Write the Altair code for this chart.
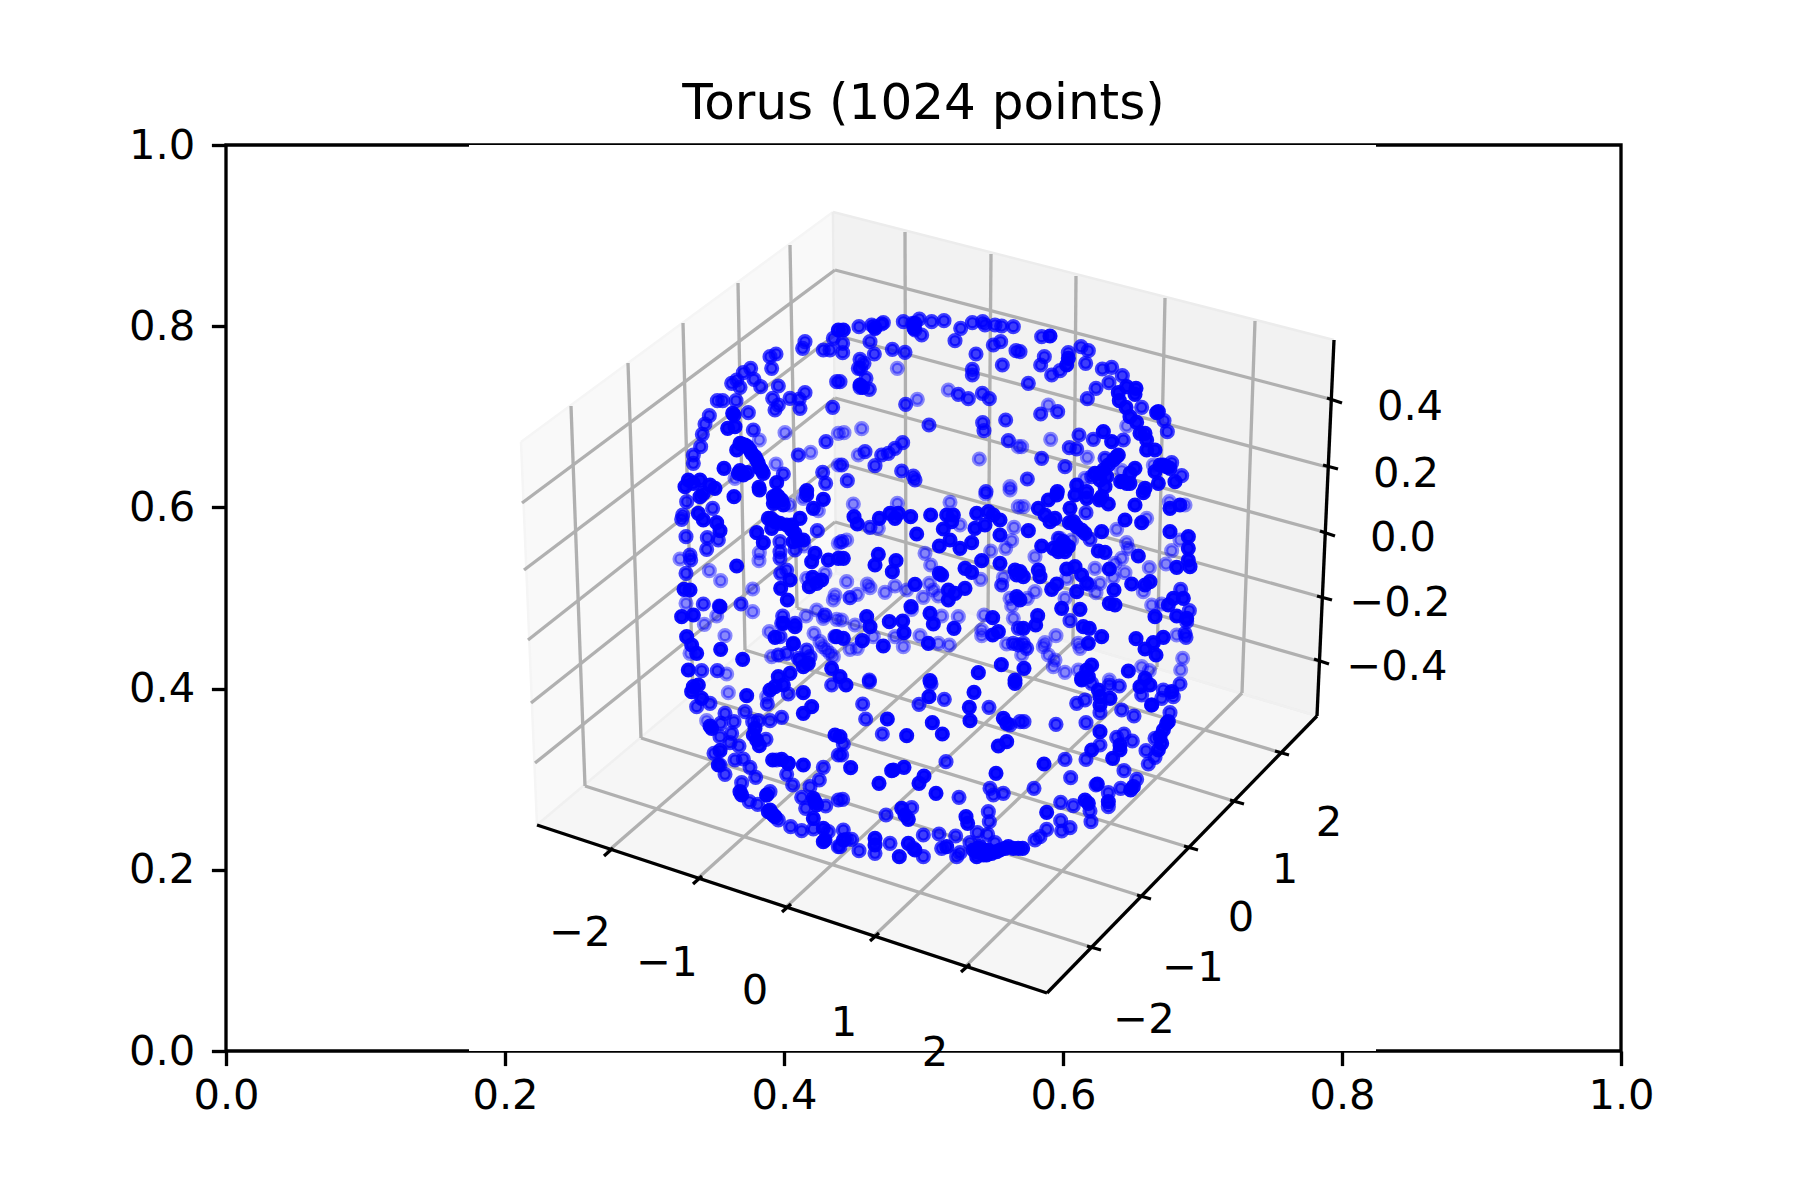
import altair as alt
import pandas as pd

# ---- outer axes frame (pixels) ----
FRAME_L, FRAME_R, FRAME_T, FRAME_B = 226, 1621, 145, 1051
PW, PH = FRAME_R - FRAME_L, FRAME_B - FRAME_T


def ax(px):
    return (px - FRAME_L) / PW


def ay(py):
    return (FRAME_B - py) / PH


FONT = "DejaVu Sans"
TICK_FS = 41.67

ORIGINS = [(660, 300), (840, 300), (1020, 300), (660, 490), (840, 490), (1020, 490), (660, 680), (840, 680), (1020, 680)]

SOLID = [
 [(218,340),(222,345),(225,380),(203,385),(255,435),(245,432),(230,450),(270,450),(285,470),(295,490),(310,520),(192,505),(240,512),(262,518),(350,548),(297,562),(440,572),(85,540),(100,550),(120,540),(150,555),(75,560),(165,565),(535,90),(262,440),(275,460),(290,480),(300,505),(305,510),(240,430),(235,520),(250,525)],
 [(225,70),(222,85),(68,262),(60,255),(105,85),(10,90)],
 [(90,108),(145,175),(140,195),(348,265),(320,260),(295,278),(345,283),(298,302),(318,322),(330,350),(350,367),(410,338),(415,335),(360,400),(375,400),(380,420),(380,450),(405,450),(250,395),(275,425),(295,465),(265,495),(240,520),(345,505),(330,520),(302,545),(430,495),(440,500),(405,515),(465,545),(255,560),(170,555),(375,565),(330,550),(415,550),(112,575),(250,510),(260,530),(240,540),(225,520),(290,470),(280,480),(310,545),(320,550),(450,505),(420,495)],
 [(222,20),(298,0),(355,20),(340,40),(365,30),(440,15),(490,28),(460,55),(120,20),(130,10),(115,70),(130,90),(170,98),(180,122),(420,85),(333,85),(335,115),(380,105),(395,120),(415,150),(290,128),(310,158),(230,228),(465,190),(455,215),(505,210),(535,205),(458,262),(485,270),(448,290),(470,280),(390,270),(362,295),(382,330),(72,298),(90,300),(65,380),(100,375),(80,440),(95,465),(110,490),(182,478),(248,508),(85,540),(345,442),(370,400),(405,410),(400,462),(445,520),(430,530),(515,535),(390,550),(355,560),(530,440),(180,350),(340,20),(345,30),(350,15),(370,45),(325,85),(345,95),(360,100),(395,105),(405,130),(400,155),(430,150)],
 [(42,80),(52,102),(118,85),(150,70),(165,85),(175,70),(212,80),(272,75),(320,75),(340,75),(335,95),(310,117),(230,132),(410,70),(445,65),(460,75),(480,90),(480,135),(405,115),(435,105),(298,168),(330,150),(360,175),(395,158),(10,205),(115,193),(105,225),(168,212),(157,245),(298,250),(305,255),(375,235),(395,247),(225,283),(325,300),(345,310),(375,295),(325,330),(480,220),(525,240),(530,255),(425,212),(80,380),(148,395),(213,350),(270,370),(280,402),(188,393),(192,428),(342,415),(458,383),(458,435),(475,425),(130,468),(265,460),(67,452),(10,445),(484,524),(415,548),(270,572),(525,570),(0,560),(530,320),(90,410)],
 [(25,122),(55,55),(85,30),(110,15),(75,75),(105,85),(90,95),(150,55),(165,15),(200,5),(245,20),(265,42),(238,30),(148,98),(170,110),(195,130),(245,125),(315,90),(365,98),(345,45),(370,8),(65,168),(100,175),(130,155),(135,185),(235,183),(255,187),(355,198),(268,237),(55,240),(60,260),(140,237),(165,230),(185,255),(200,280),(170,305),(95,298),(110,282),(125,355),(180,358),(282,300),(268,340),(285,345),(335,282),(375,285),(390,275),(405,380),(190,410),(208,415),(245,440),(205,460),(47,405),(53,377),(348,446),(400,458),(375,477),(408,495),(430,442),(450,125),(505,140),(490,325),(460,325),(445,345),(470,378),(500,385),(215,525),(200,540),(325,543),(375,565),(205,560),(10,415),(12,535),(0,330),(0,245),(10,260),(185,565),(200,25),(450,55),(480,45),(505,175),(505,210),(510,230),(470,232),(120,170),(145,170),(115,185),(160,95),(185,120)],
 [(100,20),(115,15),(95,35),(125,55),(260,47),(345,20),(330,30),(370,15),(430,38),(455,80),(430,100),(150,138),(155,145),(285,145),(280,165),(290,180),(298,197),(180,212),(175,255),(240,335),(245,345),(320,345),(338,240),(365,238),(385,250),(430,255),(330,390),(335,400),(345,410),(465,365),(460,415),(490,445),(490,485),(495,480),(525,165),(340,405),(325,395),(470,375),(460,355)],
 [(18,15),(267,50),(402,37),(525,10),(142,117),(277,128),(307,162),(200,167),(388,82),(390,122),(490,115),(500,130),(500,185),(475,198),(32,263),(155,272),(160,270),(192,262),(252,288),(237,310),(117,310),(288,340),(468,280),(185,385),(195,405),(205,418),(378,410),(383,430),(105,475),(105,495),(178,530),(205,490),(225,510),(320,500),(410,515),(430,525),(470,515),(505,500),(535,505),(420,500),(445,510),(0,170),(10,480),(400,510),(415,505),(440,525),(455,520),(480,510),(495,505),(520,505),(410,530),(430,510)],
 [(185,0),(235,30),(240,50),(240,75),(270,55),(390,15),(360,20),(455,35),(395,75),(240,155),(215,210),(300,195),(300,210),(278,235),(72,252),(232,312),(340,320),(332,330),(265,365),(195,360),(205,370),(80,397),(8,505),(445,125),(430,150),(420,170),(425,190),(415,210),(440,130)],
]

MID = [
 [(435,125),(428,145),(520,115),(490,150),(510,150),(330,170),(348,162),(335,205),(272,205),(250,218),(282,238),(302,260),(355,258),(215,250),(230,240),(240,262),(530,245),(435,278),(390,295),(418,297),(338,295),(420,325),(518,322),(355,315),(345,330),(172,302),(188,302),(228,302),(265,338),(148,347),(135,372),(127,403),(122,440),(100,465),(100,490),(280,390),(498,425),(415,465),(370,522),(488,517),(497,550)],
 [(8,130),(8,158),(57,80),(95,75),(103,80),(130,68),(125,72),(90,125),(103,162),(157,148),(195,157),(190,65),(218,70),(238,57),(225,90),(245,105),(275,65),(312,62),(345,122),(362,85),(397,68),(428,65),(435,75),(465,75),(485,78),(520,80),(460,135),(482,125),(408,162),(528,152),(487,195),(397,208),(397,225),(60,178),(72,190),(55,205),(62,205),(78,235),(60,262),(88,268),(0,245),(355,283),(385,296),(427,280),(448,296),(197,313),(267,375),(428,368),(432,392),(497,360),(505,422),(188,428),(165,445),(145,460),(125,465),(75,455),(105,497),(5,495),(185,513),(220,528),(225,540),(22,542),(438,575)],
 [(65,110),(73,170),(62,195),(95,225),(120,212),(145,158),(183,140),(205,152),(197,190),(247,207),(275,202),(307,227),(267,248),(25,250),(228,265),(202,296),(62,342),(113,335),(365,322),(432,362),(442,395),(177,405),(220,418),(148,443),(170,447),(65,475),(135,500),(22,537),(310,420),(255,475),(455,488),(485,527),(215,530),(0,155)],
 [(80,35),(158,55),(68,75),(65,88),(78,140),(142,143),(175,150),(140,178),(90,195),(92,210),(78,250),(130,342),(178,348),(243,342),(360,185),(360,205),(360,155),(380,240),(362,250),(472,122),(405,180),(495,375),(368,378),(525,440),(440,480),(355,495),(380,490),(400,460),(125,542),(172,542),(415,505),(365,400),(405,400),(360,440),(420,510),(450,500)],
 [(90,112),(30,323),(485,285),(520,460),(535,465),(88,570),(5,155),(535,415)],
 [(198,68),(210,148),(482,298),(508,362),(150,392),(20,475),(10,460),(495,430),(498,442),(500,395),(115,145)],
 [(110,80),(150,70),(385,42),(322,72),(515,15),(195,100),(255,95),(182,130),(222,125),(215,160),(180,170),(210,188),(237,198),(278,125),(295,122),(330,122),(365,112),(318,178),(162,220),(225,240),(250,237),(270,262),(287,292),(380,283),(398,315),(490,262),(478,300),(450,320),(425,352),(245,308),(268,365),(293,373),(330,335),(320,345),(497,378),(437,385),(392,440),(425,452),(460,447),(505,455),(535,360),(535,225),(195,283),(350,240),(355,420),(535,500),(385,250),(180,255)],
 [(88,5),(68,72),(77,117),(127,162),(273,12),(313,58),(237,73),(447,82),(318,245),(10,192),(5,225),(357,352),(138,405),(215,383),(250,465),(297,462),(347,468),(8,358),(450,325),(460,345),(490,340),(445,395),(448,425),(412,458),(443,463),(57,512),(105,520),(150,490),(250,530),(35,478),(20,478),(10,450),(0,500),(390,488),(465,488),(305,505),(360,518),(350,530),(540,125),(510,135),(220,505)],
 [(12,125),(108,133),(198,128),(170,70),(195,60),(240,98),(305,90),(342,108),(450,98),(395,75),(365,45),(268,15),(298,18),(215,10),(425,55),(480,12),(430,30),(460,50),(290,172),(312,162),(337,183),(240,195),(135,238),(198,238),(378,212),(385,252),(405,232),(405,175),(312,272),(152,293),(42,325),(228,315),(265,338),(302,325),(350,298),(122,367),(160,377),(210,393),(213,425),(122,422),(150,443),(125,453),(80,448),(45,480),(60,470),(265,380)],
]

FAINT = [
 [(375,398),(298,420),(452,457),(348,492),(225,535),(535,495),(535,400)],
 [(172,205),(325,270),(232,298),(65,386),(12,398),(535,440),(55,465),(418,477),(510,560)],
 [(85,315),(320,378),(92,418),(5,440),(202,472),(400,495),(195,535),(305,512)],
 [(60,207),(148,242),(182,272),(278,297),(78,340),(170,378),(278,365),(133,403),(195,437),(298,188),(297,212),(388,45),(430,25),(475,62),(535,160),(432,168),(440,265),(495,250),(525,315),(520,330),(470,360),(490,385),(438,378),(328,425),(462,430),(530,388),(488,470),(510,490),(335,500),(200,552),(90,490),(500,480),(480,455),(520,500)],
 [(40,42),(172,40),(330,37),(437,12),(510,0),(535,50),(360,105),(522,112),(115,115),(255,190),(272,225),(20,275),(82,282),(90,293),(135,307),(165,288),(52,313),(268,280),(250,322),(280,300),(295,318),(422,268),(452,183),(497,175),(515,152),(490,262),(510,325),(515,348),(432,375),(520,385),(305,378),(355,380),(215,358),(5,390),(45,405),(240,437),(165,440),(190,470),(295,460),(328,465),(425,420),(425,437),(100,440),(30,478),(52,475),(500,462),(200,300),(20,150)],
 [(10,50),(290,118),(380,85),(120,145),(155,150),(320,158),(325,175),(455,182),(480,150),(45,200),(388,233),(438,222),(305,205),(315,248),(285,220),(225,235),(240,280),(228,308),(280,262),(395,345),(425,342),(135,325),(45,305),(22,325),(108,437),(75,458),(70,470),(85,495),(105,510),(100,530),(135,547),(175,460),(180,475),(175,540),(470,435),(488,505),(482,540),(365,530),(388,542),(268,570),(448,35),(495,45),(370,305),(210,285),(140,265),(5,495)],
 [(205,38),(320,50),(140,122)],
 [],
 [],
]

# ---- 3-D box (pixels) ----
FLOOR = [(537, 825), (1047, 993), (1317, 716), (836, 573)]
LEFT_PANE = [(537, 825), (521, 442), (833, 212), (836, 573)]
BACK_PANE = [(836, 573), (1317, 716), (1334, 340), (833, 212)]

X_TICK_POS = [(607, 852), (696, 880), (785, 908), (873, 937), (964, 968)]
X_GRID_BOT = [(906, 593), (988, 617), (1073, 642), (1157, 667), (1242, 693)]
X_GRID_TOP = [(905, 232), (991, 254), (1076, 276), (1165, 298), (1255, 321)]

Y_TICK_POS = [(1094, 948), (1144, 897), (1191, 848), (1237, 802), (1282, 753)]
Y_GRID_BOT = [(585, 786), (641, 738), (693, 695), (745, 650), (797, 608)]
Y_GRID_TOP = [(571, 406), (628, 363), (683, 323), (738, 283), (790, 245)]

Z_GRID_LEFT = [(522, 503), (524, 570), (528, 640), (531, 703), (535, 763)]
Z_GRID_BACK = [(835, 270), (835, 335), (835, 398), (835, 462), (835, 522)]
Z_GRID_RIGHT = [(1330, 399), (1327, 467), (1324, 532), (1321, 597), (1318, 661)]
Z_TICK_START = [(1327, 398), (1323, 465), (1320, 531), (1317, 596), (1314, 659)]
Z_TICK_END = [(1342, 403), (1338, 469), (1335, 536), (1332, 600), (1329, 664)]

X_TICK_LABELS = ["\u22122", "\u22121", "0", "1", "2"]
X_LABEL_POS = [(580, 933), (667, 963), (755, 991), (844, 1023), (935, 1053)]
Y_TICK_LABELS = ["\u22122", "\u22121", "0", "1", "2"]
Y_LABEL_POS = [(1144, 1020), (1193, 968), (1241, 918), (1285, 870), (1329, 823)]
Z_TICK_LABELS = ["0.4", "0.2", "0.0", "\u22120.2", "\u22120.4"]
Z_LABEL_POS = [(1410, 407), (1406, 474), (1403, 538), (1400, 603), (1397, 667)]

COVER_L, COVER_R = 469, 1376


def segs(pairs):
    return pd.DataFrame([
        {"x": ax(a[0]), "y": ay(a[1]), "x2": ax(b[0]), "y2": ay(b[1])} for a, b in pairs
    ])


def area_rows(poly):
    """Turn a convex polygon into rows of x, lower y and upper y."""
    n = len(poly)
    rows = []
    for x in sorted(p[0] for p in poly):
        ys = []
        for i in range(n):
            (x0, y0), (x1, y1) = poly[i], poly[(i + 1) % n]
            if min(x0, x1) <= x <= max(x0, x1) and x0 != x1:
                ys.append(y0 + (y1 - y0) * (x - x0) / (x1 - x0))
        rows.append({"x": ax(x), "y": ay(min(ys)), "y2": ay(max(ys))})
    return pd.DataFrame(rows)


def cloud(groups):
    rows = []
    for (ox, oy), tile in zip(ORIGINS, groups):
        for zx, zy in tile:
            rows.append({"x": ax(ox + zx / 3), "y": ay(oy + zy / 3)})
    return pd.DataFrame(rows, columns=["x", "y"])


frame_ticks = [0.0, 0.2, 0.4, 0.6, 0.8, 1.0]
axis_kw = dict(
    values=frame_ticks, format=".1f", grid=False, domain=False, ticks=True, tickSize=14.6, tickWidth=3.33,
    tickColor="black", labelColor="black", labelFont=FONT, labelFontSize=TICK_FS,
    title=None, labelFlush=False, labelOverlap=False,
)
SCALE = alt.Scale(domain=[0, 1], nice=False, zero=False)
X = alt.X("x:Q", scale=SCALE, axis=alt.Axis(labelPadding=10, **axis_kw))
Y = alt.Y("y:Q", scale=SCALE, axis=alt.Axis(labelPadding=16.6, **axis_kw))


def area_layer(poly, color):
    return alt.Chart(area_rows(poly)).mark_area(color=color, opacity=1).encode(X, Y, y2="y2:Q")


def rule_layer(pairs, color, width):
    return alt.Chart(segs(pairs)).mark_rule(color=color, strokeWidth=width, strokeCap="butt").encode(
        X, Y, x2="x2:Q", y2="y2:Q"
    )


def points_layer(groups, alpha):
    return alt.Chart(cloud(groups)).mark_point(
        filled=True, shape="circle", size=120, fill="#0000ff", stroke="#0000ff",
        strokeWidth=4.17, fillOpacity=alpha, strokeOpacity=alpha, opacity=1,
    ).encode(X, Y)


def text_layer(labels, pos):
    df = pd.DataFrame({"t": labels, "x": [ax(p[0]) for p in pos], "y": [ay(p[1]) for p in pos]})
    return alt.Chart(df).mark_text(
        font=FONT, fontSize=TICK_FS, color="black", align="center", baseline="middle"
    ).encode(X, Y, text="t:N")


cover_df = pd.DataFrame({"x": [ax(COVER_L), ax(COVER_R)], "y": [0.0, 0.0], "y2": [1.0, 1.0]})
base = alt.Chart(cover_df).mark_area(color="white", opacity=1).encode(X, Y, y2="y2:Q")

close = lambda poly: [(poly[i], poly[(i + 1) % len(poly)]) for i in range(len(poly))]

grid_pairs = (
    list(zip(X_GRID_TOP, X_GRID_BOT)) + list(zip(X_GRID_BOT, X_TICK_POS))
    + list(zip(Y_GRID_TOP, Y_GRID_BOT)) + list(zip(Y_GRID_BOT, Y_TICK_POS))
    + list(zip(Z_GRID_LEFT, Z_GRID_BACK)) + list(zip(Z_GRID_BACK, Z_GRID_RIGHT))
)
x_tick_pairs = [((x - 3, y + 4), (x + 6, y - 4)) for x, y in X_TICK_POS]
y_tick_pairs = [((x - 7, y - 2), (x + 7, y + 2)) for x, y in Y_TICK_POS]
z_tick_pairs = list(zip(Z_TICK_START, Z_TICK_END))
axis_pairs = [(FLOOR[0], FLOOR[1]), (FLOOR[1], FLOOR[2]), (FLOOR[2], BACK_PANE[2])]

chart = alt.layer(
    base,
    area_layer(LEFT_PANE, "#f9f9f9"),
    area_layer(BACK_PANE, "#f2f2f2"),
    area_layer(FLOOR, "#f6f6f6"),
    rule_layer(close(LEFT_PANE), "#f5f5f5", 2.5),
    rule_layer(close(BACK_PANE), "#ececec", 2.5),
    rule_layer(close(FLOOR), "#f0f0f0", 2.5),
    rule_layer(grid_pairs, "#b0b0b0", 3.33),
    rule_layer(axis_pairs, "black", 3.33),
    rule_layer(x_tick_pairs + y_tick_pairs + z_tick_pairs, "black", 3.33),
    points_layer(FAINT, 0.45),
    points_layer(MID, 0.75),
    points_layer(SOLID, 0.95),
    text_layer(X_TICK_LABELS, X_LABEL_POS),
    text_layer(Y_TICK_LABELS, Y_LABEL_POS),
    text_layer(Z_TICK_LABELS, Z_LABEL_POS),
).properties(
    width=PW,
    height=PH,
    padding={"left": FRAME_L - 8, "top": FRAME_T - 8, "right": 1800 - FRAME_R - 16, "bottom": 1200 - FRAME_B - 16},
    autosize=alt.AutoSizeParams(type="none"),
    title=alt.TitleParams(
        text="Torus (1024 points)", font=FONT, fontSize=50, fontWeight="normal", color="black",
        anchor="middle", offset=-3.5,
    ),
    background="white",
).configure_view(stroke="black", strokeWidth=3.33)

chart.save("out.html", embed_options={"renderer": "svg", "actions": False})
